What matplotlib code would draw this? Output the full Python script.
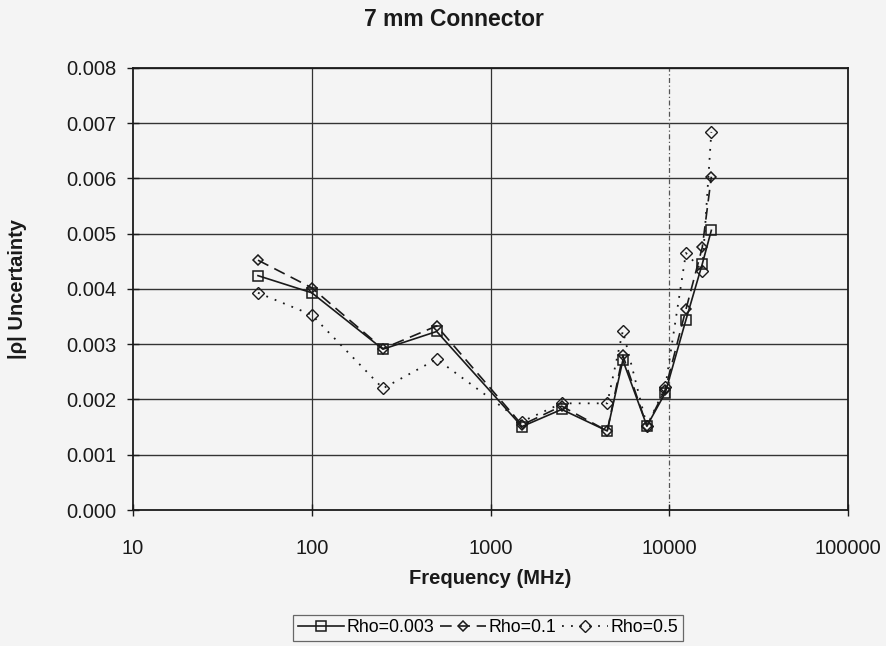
import matplotlib
matplotlib.use("Agg")
import matplotlib.pyplot as plt
from matplotlib.ticker import FixedLocator, FuncFormatter

plt.rcParams['font.family'] = ['Liberation Sans', 'DejaVu Sans']

freq = [50, 100, 250, 500, 1500, 2500, 4500, 5500, 7500, 9500, 12400, 15300, 17200]
rho_003 = [0.00424, 0.00393, 0.00291, 0.00323, 0.00151, 0.00182, 0.00143, 0.00271,
           0.00152, 0.00212, 0.00344, 0.00445, 0.00506]
rho_01 = [0.00452, 0.00402, 0.00292, 0.00333, 0.00154, 0.00188, 0.00143, 0.00280,
          0.00152, 0.00218, 0.00363, 0.00475, 0.00603]
rho_05 = [0.00393, 0.00353, 0.00220, 0.00273, 0.00160, 0.00193, 0.00193, 0.00324,
          0.00152, 0.00222, 0.00465, 0.00433, 0.00684]
x_ticks = [10, 100, 1000, 10000, 100000]
y_ticks = [0.000, 0.001, 0.002, 0.003, 0.004, 0.005, 0.006, 0.007, 0.008]
labels = ['Rho=0.003', 'Rho=0.1', 'Rho=0.5']

bg = '#f4f4f4'
ink = '#1a1a1a'

fig = plt.figure(figsize=(8.87, 6.46), dpi=100, facecolor=bg)
ax = fig.add_axes([0.150, 0.2105, 0.806, 0.6845])
ax.set_facecolor(bg)

ax.set_xscale('log')
ax.set_xlim(10, 100000)
ax.set_ylim(0, 0.008)

# gridlines
for y in y_ticks[1:]:
    ax.axhline(y, color='#333333', lw=1.0, zorder=1)
for x in x_ticks[1:-1]:
    if x == 10000:
        ax.axvline(x, color='#555555', lw=0.9, ls=(0, (4, 2, 1, 2)), zorder=1)
    else:
        ax.axvline(x, color='#333333', lw=0.9, zorder=1)

ax.plot(freq, rho_003, color=ink, lw=1.2, ls='-', marker='s', ms=7,
        mfc='none', mec=ink, mew=1.1, label=labels[0], zorder=3)
ax.plot(freq, rho_01, color=ink, lw=1.2, ls=(0, (7, 4)), marker='D', ms=5,
        mfc='none', mec=ink, mew=1.1, label=labels[1], zorder=3)
ax.plot(freq, rho_05, color=ink, lw=1.3, ls=(0, (1, 4)), marker='D', ms=6,
        mfc='none', mec=ink, mew=1.0, label=labels[2], zorder=3)

ax.xaxis.set_major_locator(FixedLocator(x_ticks))
ax.xaxis.set_minor_locator(FixedLocator([]))
ax.xaxis.set_major_formatter(FuncFormatter(lambda v, p: f"{int(round(v))}"))
ax.yaxis.set_major_locator(FixedLocator(y_ticks))
ax.yaxis.set_major_formatter(FuncFormatter(lambda v, p: f"{v:.3f}"))

ax.tick_params(axis='both', direction='inout', length=8, width=1.0, color=ink,
               labelsize=14.5, labelcolor=ink)
ax.tick_params(axis='x', pad=17)
ax.tick_params(axis='y', pad=8)

for s in ['left', 'bottom', 'top', 'right']:
    ax.spines[s].set_color(ink)
    ax.spines[s].set_linewidth(1.3)

ax.set_xlabel('Frequency (MHz)', fontsize=14.5, fontweight='bold', color=ink, labelpad=8)
ax.set_ylabel('|ρ| Uncertainty', fontsize=14.5, fontweight='bold', color=ink, labelpad=28)

fig.text(454 / 887, 1 - 19 / 646, '7 mm Connector', ha='center', va='center',
         fontsize=16.5, fontweight='bold', color=ink)

leg = fig.legend(loc='center', bbox_to_anchor=(488 / 887, 1 - 628 / 646), ncol=3,
                 frameon=True, fontsize=12.8, handlelength=2.6, handletextpad=0.15,
                 columnspacing=0.3, borderpad=0.25, borderaxespad=0, fancybox=False)
leg.get_frame().set_edgecolor('#444444')
leg.get_frame().set_facecolor(bg)
leg.get_frame().set_linewidth(0.9)

fig.savefig('out.png', dpi=100, facecolor=bg)
